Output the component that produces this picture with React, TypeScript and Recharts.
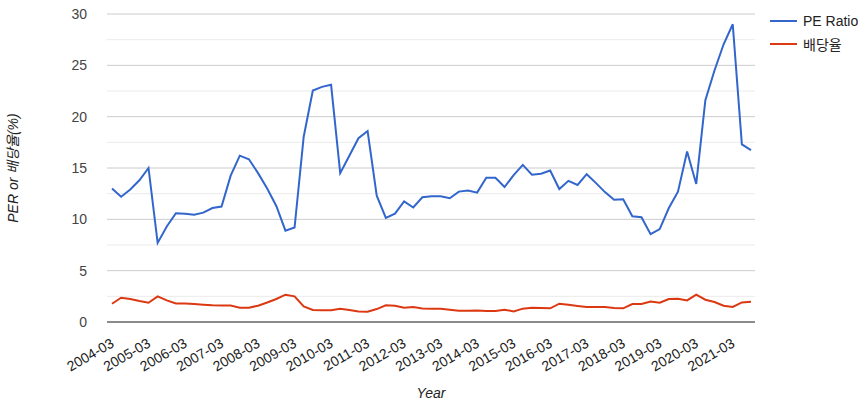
import React from 'react';
import { LineChart, Line, XAxis, YAxis, CartesianGrid, ReferenceLine } from 'recharts';

const periods = [
  '2004-03','2004-06','2004-09','2004-12','2005-03','2005-06','2005-09','2005-12',
  '2006-03','2006-06','2006-09','2006-12','2007-03','2007-06','2007-09','2007-12',
  '2008-03','2008-06','2008-09','2008-12','2009-03','2009-06','2009-09','2009-12',
  '2010-03','2010-06','2010-09','2010-12','2011-03','2011-06','2011-09','2011-12',
  '2012-03','2012-06','2012-09','2012-12','2013-03','2013-06','2013-09','2013-12',
  '2014-03','2014-06','2014-09','2014-12','2015-03','2015-06','2015-09','2015-12',
  '2016-03','2016-06','2016-09','2016-12','2017-03','2017-06','2017-09','2017-12',
  '2018-03','2018-06','2018-09','2018-12','2019-03','2019-06','2019-09','2019-12',
  '2020-03','2020-06','2020-09','2020-12','2021-03','2021-06','2021-09',
];

const peRatio = [
  13.0, 12.2, 12.9, 13.8, 15.0, 7.7, 9.3, 10.6,
  10.55, 10.45, 10.65, 11.1, 11.25, 14.25, 16.2, 15.85,
  14.5, 13.0, 11.3, 8.9, 9.2, 18.05, 22.55, 22.9,
  23.1, 14.5, 16.2, 17.9, 18.6, 12.3, 10.15, 10.55,
  11.75, 11.15, 12.15, 12.25, 12.25, 12.05, 12.7, 12.8,
  12.6, 14.05, 14.05, 13.15, 14.3, 15.3, 14.35, 14.45,
  14.75, 12.95, 13.75, 13.35, 14.4, 13.55, 12.65, 11.9,
  11.95, 10.3, 10.2, 8.55, 9.05, 11.1, 12.7, 16.6,
  13.45, 21.6, 24.5, 27.05, 29.0, 17.3, 16.75,
];

const dividendYield = [
  1.78, 2.36, 2.24, 2.04, 1.88, 2.5, 2.1, 1.81,
  1.81, 1.75, 1.68, 1.62, 1.6, 1.6, 1.39, 1.4,
  1.59, 1.9, 2.24, 2.66, 2.5, 1.52, 1.17, 1.14,
  1.14, 1.3, 1.17, 1.03, 1.0, 1.26, 1.62, 1.58,
  1.39, 1.45, 1.32, 1.3, 1.3, 1.2, 1.1, 1.1,
  1.13, 1.07, 1.07, 1.2, 1.03, 1.3, 1.39, 1.36,
  1.33, 1.78, 1.68, 1.56, 1.45, 1.46, 1.46, 1.36,
  1.33, 1.75, 1.75, 2.0, 1.88, 2.24, 2.27, 2.1,
  2.66, 2.17, 1.95, 1.59, 1.46, 1.91, 1.98,
];

const majorTicks = [0, 5, 10, 15, 20, 25, 30];
const minorTicks = [2.5, 7.5, 12.5, 17.5, 22.5, 27.5];

const seriesNames = ['PE Ratio', '배당율'];
const seriesColors = ['#3366cc', '#dc3912'];

const data = periods.map((p, i) => ({ period: p, pe: peRatio[i], div: dividendYield[i] }));

const FONT = "Arial, 'Liberation Sans', 'Noto Sans CJK KR', sans-serif";

const XTick = (props: any) => {
  const { x, y, payload } = props;
  const tx = x + 3;
  const ty = y + 16;
  return (
    <text
      x={tx}
      y={ty}
      transform={`rotate(-30, ${tx}, ${ty})`}
      textAnchor="end"
      fontFamily={FONT}
      fontSize={14}
      fill="#222"
    >
      {payload.value}
    </text>
  );
};

const YTick = (props: any) => {
  const { x, y, payload } = props;
  return (
    <text x={x} y={y + 5} textAnchor="end" fontFamily={FONT} fontSize={14} fill="#444">
      {payload.value}
    </text>
  );
};

const LegendBox = () => (
  <div style={{ position: 'absolute', left: 770, top: 9, fontFamily: FONT, fontSize: 14, color: '#222' }}>
    {seriesNames.map((n, i) => (
      <div key={n} style={{ display: 'flex', alignItems: 'center', height: 23 }}>
        <svg width={33} height={10} style={{ display: 'block' }}>
          <line x1={0} y1={5} x2={27} y2={5} stroke={seriesColors[i]} strokeWidth={2} />
        </svg>
        <span>{n}</span>
      </div>
    ))}
  </div>
);

export default function App() {
  return (
    <div style={{ position: 'absolute', left: 0, top: 0, width: 868, height: 405, background: '#fff' }}>
      <LineChart width={868} height={405} data={data} margin={{ top: 14, right: 113, left: 0, bottom: 0 }}>
        <CartesianGrid vertical={false} stroke="#cccccc" />
        {minorTicks.map((t) => (
          <ReferenceLine key={t} y={t} stroke="#ebebeb" strokeWidth={1} ifOverflow="visible" />
        ))}
        <XAxis
          dataKey="period"
          interval={3}
          tickLine={false}
          axisLine={{ stroke: '#333', strokeWidth: 1 }}
          tick={<XTick />}
          height={83}
          padding={{ left: 5, right: 4 }}
          label={(p: any) => (
            <text x={431} y={398} textAnchor="middle" fontFamily={FONT} fontSize={14} fontStyle="italic" fill="#222">
              Year
            </text>
          )}
        />
        <YAxis
          domain={[0, 30]}
          ticks={majorTicks}
          width={107}
          axisLine={false}
          tickLine={false}
          tickMargin={14}
          tick={<YTick />}
          label={(p: any) => (
            <text
              x={18}
              y={168}
              transform="rotate(-90, 18, 168)"
              textAnchor="middle"
              fontFamily={FONT}
              fontSize={14}
              fontStyle="italic"
              fill="#222"
            >
              PER or 배당율(%)
            </text>
          )}
        />
        <Line dataKey="pe" name={seriesNames[0]} stroke={seriesColors[0]} strokeWidth={2} dot={false} isAnimationActive={false} />
        <Line dataKey="div" name={seriesNames[1]} stroke={seriesColors[1]} strokeWidth={2} dot={false} isAnimationActive={false} />
      </LineChart>
      <LegendBox />
    </div>
  );
}
